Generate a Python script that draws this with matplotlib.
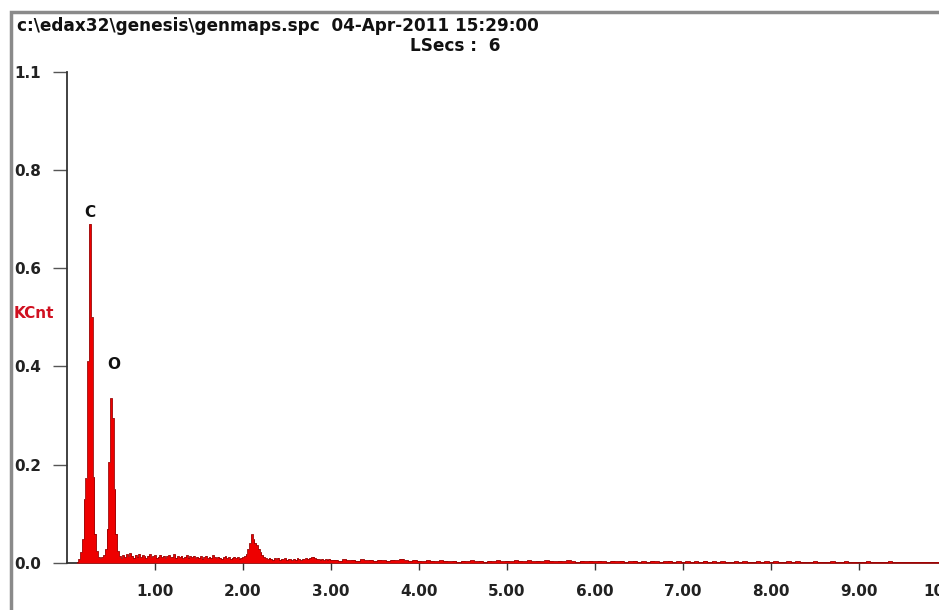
import matplotlib
matplotlib.use("Agg")
import matplotlib.pyplot as plt
from matplotlib.patches import Rectangle
import numpy as np

# --- data (keV, KCnt) ---
energy_low = [0.10, 0.12, 0.14, 0.16, 0.18, 0.20, 0.22, 0.24, 0.26, 0.28,
              0.30, 0.32, 0.34, 0.36, 0.38, 0.40, 0.42, 0.44, 0.46, 0.48,
              0.50, 0.52, 0.54, 0.56, 0.58, 0.60, 0.62, 0.64, 0.66, 0.68,
              0.70, 0.72, 0.74, 0.76, 0.78, 0.80, 0.82, 0.84, 0.86, 0.88,
              0.90, 0.92, 0.94, 0.96, 0.98, 1.00, 1.02, 1.04, 1.06, 1.08,
              1.10, 1.12, 1.14, 1.16, 1.18, 1.20, 1.22, 1.24, 1.26, 1.28,
              1.30, 1.32, 1.34, 1.36, 1.38, 1.40, 1.42, 1.44, 1.46, 1.48,
              1.50, 1.52, 1.54, 1.56, 1.58, 1.60, 1.62, 1.64, 1.66, 1.68,
              1.70, 1.72, 1.74, 1.76, 1.78, 1.80, 1.82, 1.84, 1.86, 1.88,
              1.90, 1.92, 1.94, 1.96, 1.98, 2.00, 2.02, 2.04, 2.06, 2.08,
              2.10, 2.12, 2.14, 2.16, 2.18, 2.20, 2.22, 2.24, 2.26, 2.28,
              2.30, 2.32, 2.34, 2.36, 2.38, 2.40, 2.42, 2.44, 2.46, 2.48,
              2.50, 2.52, 2.54, 2.56, 2.58, 2.60, 2.62, 2.64, 2.66, 2.68,
              2.70, 2.72, 2.74, 2.76, 2.78, 2.80, 2.82, 2.84, 2.86, 2.88,
              2.90, 2.92, 2.94, 2.96, 2.98, 3.00]
counts_low = [0.000, 0.002, 0.008, 0.022, 0.048, 0.130, 0.172, 0.410, 0.690, 0.500,
              0.175, 0.060, 0.024, 0.012, 0.010, 0.012, 0.016, 0.028, 0.070, 0.205,
              0.335, 0.295, 0.150, 0.060, 0.024, 0.014, 0.010, 0.016, 0.012, 0.018,
              0.014, 0.020, 0.015, 0.011, 0.017, 0.013, 0.019, 0.012, 0.016, 0.014,
              0.010, 0.015, 0.018, 0.012, 0.014, 0.016, 0.011, 0.013, 0.017, 0.012,
              0.015, 0.010, 0.014, 0.016, 0.012, 0.013, 0.018, 0.011, 0.014, 0.012,
              0.015, 0.010, 0.013, 0.016, 0.011, 0.014, 0.012, 0.015, 0.010, 0.013,
              0.011, 0.014, 0.009, 0.012, 0.015, 0.010, 0.013, 0.011, 0.016, 0.012,
              0.010, 0.013, 0.011, 0.009, 0.012, 0.014, 0.010, 0.012, 0.009, 0.011,
              0.013, 0.010, 0.012, 0.009, 0.011, 0.012, 0.014, 0.018, 0.028, 0.040,
              0.058, 0.048, 0.041, 0.036, 0.029, 0.022, 0.016, 0.012, 0.010, 0.008,
              0.011, 0.009, 0.007, 0.010, 0.008, 0.011, 0.007, 0.009, 0.008, 0.010,
              0.007, 0.009, 0.008, 0.006, 0.009, 0.007, 0.010, 0.008, 0.006, 0.009,
              0.008, 0.010, 0.009, 0.011, 0.012, 0.013, 0.010, 0.009, 0.008, 0.007,
              0.009, 0.006, 0.008, 0.007, 0.009, 0.007]

energy_high = [3.05, 3.10, 3.15, 3.20, 3.25, 3.30, 3.35, 3.40, 3.45, 3.50,
               3.55, 3.60, 3.65, 3.70, 3.75, 3.80, 3.85, 3.90, 3.95, 4.00,
               4.05, 4.10, 4.15, 4.20, 4.25, 4.30, 4.35, 4.40, 4.45, 4.50,
               4.55, 4.60, 4.65, 4.70, 4.75, 4.80, 4.85, 4.90, 4.95, 5.00,
               5.05, 5.10, 5.15, 5.20, 5.25, 5.30, 5.35, 5.40, 5.45, 5.50,
               5.55, 5.60, 5.65, 5.70, 5.75, 5.80, 5.85, 5.90, 5.95, 6.00,
               6.05, 6.10, 6.15, 6.20, 6.25, 6.30, 6.35, 6.40, 6.45, 6.50,
               6.55, 6.60, 6.65, 6.70, 6.75, 6.80, 6.85, 6.90, 6.95, 7.00,
               7.05, 7.10, 7.15, 7.20, 7.25, 7.30, 7.35, 7.40, 7.45, 7.50,
               7.55, 7.60, 7.65, 7.70, 7.75, 7.80, 7.85, 7.90, 7.95, 8.00,
               8.05, 8.10, 8.15, 8.20, 8.25, 8.30, 8.35, 8.40, 8.45, 8.50,
               8.55, 8.60, 8.65, 8.70, 8.75, 8.80, 8.85, 8.90, 8.95, 9.00,
               9.05, 9.10, 9.15, 9.20, 9.25, 9.30, 9.35, 9.40, 9.45, 9.50,
               9.55, 9.60, 9.65, 9.70, 9.75, 9.80, 9.85, 9.90, 9.95, 10.00]
counts_high = [0.007, 0.005, 0.008, 0.006, 0.007, 0.005, 0.008, 0.006, 0.007, 0.005,
               0.007, 0.006, 0.005, 0.007, 0.006, 0.009, 0.006, 0.005, 0.007, 0.005,
               0.004, 0.006, 0.005, 0.004, 0.006, 0.005, 0.004, 0.005, 0.003, 0.005,
               0.004, 0.006, 0.004, 0.005, 0.003, 0.005, 0.004, 0.006, 0.004, 0.005,
               0.004, 0.006, 0.005, 0.004, 0.006, 0.004, 0.005, 0.004, 0.006, 0.005,
               0.004, 0.005, 0.004, 0.006, 0.004, 0.003, 0.005, 0.004, 0.005, 0.004,
               0.005, 0.004, 0.003, 0.005, 0.004, 0.005, 0.003, 0.004, 0.005, 0.003,
               0.004, 0.003, 0.005, 0.004, 0.003, 0.004, 0.005, 0.003, 0.004, 0.003,
               0.004, 0.003, 0.004, 0.003, 0.005, 0.003, 0.004, 0.003, 0.004, 0.003,
               0.002, 0.004, 0.003, 0.004, 0.003, 0.002, 0.004, 0.003, 0.004, 0.003,
               0.004, 0.003, 0.002, 0.004, 0.003, 0.004, 0.003, 0.002, 0.003, 0.004,
               0.003, 0.002, 0.003, 0.004, 0.002, 0.003, 0.004, 0.002, 0.003, 0.002,
               0.003, 0.004, 0.002, 0.003, 0.002, 0.003, 0.004, 0.002, 0.003, 0.002,
               0.003, 0.002, 0.003, 0.002, 0.003, 0.002, 0.002, 0.003, 0.002, 0.002]

x_ticks = [1, 2, 3, 4, 5, 6, 7, 8, 9, 10]
x_tick_labels = ["1.00", "2.00", "3.00", "4.00", "5.00", "6.00", "7.00", "8.00", "9.00", "10.00"]
y_ticks = [0.0, 0.2, 0.4, 0.6, 0.8, 1.0]
y_tick_labels = ["0.0", "0.2", "0.4", "0.6", "0.8", "1.1"]
peak_labels = ["C", "O"]
peak_label_pos = [(0.26, 0.714), (0.535, 0.403)]

title_line1 = "c:\\edax32\\genesis\\genmaps.spc  04-Apr-2011 15:29:00"
title_line2 = "LSecs :  6"

plt.rcParams['font.family'] = ['DejaVu Sans']
plt.rcParams['font.weight'] = 'bold'

energy = np.array(energy_low + energy_high)
counts = np.array(counts_low + counts_high)

W, H = 939, 610
fig = plt.figure(figsize=(W / 100, H / 100), dpi=100)
fig.patch.set_facecolor("white")

# outer grey frame
fig.patches.append(Rectangle((11 / W, -0.05), 1.2, 1.05 - 12 / H,
                             transform=fig.transFigure, fill=False,
                             edgecolor="#8a8a8a", linewidth=2.5))

ax_left, ax_bottom = 67 / W, 47 / H
ax_w, ax_h = 880 / W, 491.5 / H
ax = fig.add_axes([ax_left, ax_bottom, ax_w, ax_h])
ax.set_xlim(0, 10)
ax.set_ylim(0, 1.0)

ax.fill_between(energy, counts, 0, step="mid", color="#ee0000", linewidth=0)
ax.step(energy, counts, where="mid", color="#9a0000", linewidth=0.6)

for s in ["top", "right"]:
    ax.spines[s].set_visible(False)
for s in ["left", "bottom"]:
    ax.spines[s].set_color("#333333")
    ax.spines[s].set_linewidth(1.3)
ax.spines["bottom"].set_zorder(0)

ax.set_xticks(x_ticks)
ax.set_xticklabels(x_tick_labels, fontsize=11, fontweight="bold", color="#222222")
ax.set_yticks(y_ticks)
ax.set_yticklabels(y_tick_labels, fontsize=11, fontweight="bold", color="#222222",
                   ha="left")
ax.tick_params(axis="x", direction="out", length=5, width=1, pad=10, colors="#333333",
               labelcolor="#222222")
ax.tick_params(axis="y", direction="out", length=10, width=1, pad=28, colors="#555555",
               labelcolor="#222222")

for lab, (px, py) in zip(peak_labels, peak_label_pos):
    ax.text(px, py, lab, ha="center", va="center", fontsize=11, fontweight="bold",
            color="#111111")

fig.text(17 / W, 1 - 26 / H, title_line1, ha="left", va="center", fontsize=12.2,
         fontweight="bold", color="#111111")
fig.text(410 / W, 1 - 46 / H, title_line2, ha="left", va="center", fontsize=12.2,
         fontweight="bold", color="#111111")
fig.text(14 / W, 1 - 314 / H, "KCnt", ha="left", va="center", fontsize=11,
         fontweight="bold", color="#d01020")

fig.savefig("out.png", dpi=100)
